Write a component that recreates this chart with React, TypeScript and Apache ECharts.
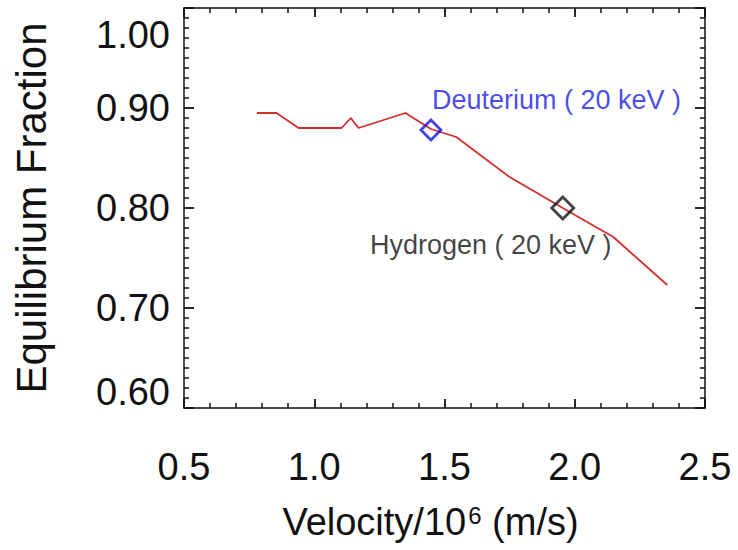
import React, { useEffect, useRef } from "react";
import * as echarts from "echarts";

// Red curve: equilibrium fraction vs velocity (10^6 m/s)
const velocity = [0.78, 0.855, 0.94, 1.105, 1.14, 1.17, 1.35, 1.448, 1.545, 1.75, 1.954, 2.148, 2.355];
const fraction = [0.895, 0.895, 0.88, 0.88, 0.89, 0.88, 0.895, 0.879, 0.871, 0.831, 0.8, 0.771, 0.723];

// Marked points
const deuteriumPoint = [1.448, 0.878];
const hydrogenPoint = [1.954, 0.8];

// Annotation texts and anchor (data coords, left-middle of text)
const deuteriumLabel = "Deuterium ( 20 keV )";
const deuteriumLabelAt = [1.452, 0.908];
const hydrogenLabel = "Hydrogen ( 20 keV )";
const hydrogenLabelAt = [1.214, 0.763];

const xTitle = "Velocity/10";
const yTitle = "Equilibrium Fraction";

const FONT = "'Liberation Sans', Arial, Helvetica, sans-serif";

export default function App() {
  const ref = useRef<HTMLDivElement>(null);
  useEffect(() => {
    if (!ref.current) return;
    const chart = echarts.init(ref.current, undefined, { renderer: "svg" });
    const mkX = (pos: string, withLabel: boolean) => ({
      type: "value",
      position: pos,
      min: 0.5,
      max: 2.5,
      interval: 0.5,
      axisLine: { show: true, onZero: false, lineStyle: { color: "#111", width: 1.5 } },
      axisTick: { show: true, inside: true, length: 9, lineStyle: { color: "#111", width: 1.8 } },
      minorTick: { show: true, splitNumber: 5, length: 5, lineStyle: { color: "#111", width: 1.5 } },
      splitLine: { show: false },
      axisLabel: withLabel
        ? {
            show: true,
            margin: 40,
            fontSize: 38,
            fontFamily: FONT,
            color: "#111",
            formatter: (v: number) => v.toFixed(1),
          }
        : { show: false },
    });
    const mkY = (pos: string, withLabel: boolean) => ({
      type: "value",
      position: pos,
      min: 0.6,
      max: 1.0,
      interval: 0.1,
      axisLine: { show: true, onZero: false, lineStyle: { color: "#111", width: 1.5 } },
      axisTick: { show: true, inside: true, length: 10, lineStyle: { color: "#111", width: 1.8 } },
      minorTick: { show: true, splitNumber: 10, length: 5, lineStyle: { color: "#111", width: 1.5 } },
      splitLine: { show: false },
      axisLabel: withLabel
        ? {
            show: true,
            margin: 14,
            fontSize: 38,
            fontFamily: FONT,
            color: "#111",
            formatter: (v: number) => {
              const t = v.toFixed(2);
              if (Math.abs(v - 1.0) < 1e-6) return "{top|" + t + "}";
              if (Math.abs(v - 0.6) < 1e-6) return "{bot|" + t + "}";
              return t;
            },
            rich: {
              top: { fontSize: 38, fontFamily: FONT, color: "#111", padding: [54, 0, 0, 0] },
              bot: { fontSize: 38, fontFamily: FONT, color: "#111", padding: [0, 0, 32, 0] },
            },
          }
        : { show: false },
    });
    const xBottom: any = mkX("bottom", true);
    xBottom.name = "{a|" + xTitle + "}{s|6}{a| (m/s)}";
    xBottom.nameLocation = "middle";
    xBottom.nameGap = 95;
    xBottom.nameTextStyle = {
      padding: [0, 28, 0, 0],
      rich: {
        a: { fontSize: 38, fontFamily: FONT, color: "#111" },
        s: { fontSize: 24, fontFamily: FONT, color: "#111", verticalAlign: "top", padding: [0, 0, 14, 2] },
      },
    };
    const yLeft: any = mkY("left", true);
    yLeft.name = yTitle;
    yLeft.nameLocation = "middle";
    yLeft.nameGap = 132;
    yLeft.nameTextStyle = { fontSize: 42, fontFamily: FONT, color: "#111" };

    chart.setOption({
      animation: false,
      backgroundColor: "#fff",
      grid: { left: 184, right: 33, top: 8, bottom: 142, outerBoundsMode: "none", containLabel: false },
      xAxis: [xBottom, mkX("top", false)],
      yAxis: [yLeft, mkY("right", false)],
      series: [
        {
          type: "line",
          data: velocity.map((v, i) => [v, fraction[i]]),
          showSymbol: false,
          lineStyle: { color: "#d42e2a", width: 1.8 },
          z: 2,
        },
        {
          type: "scatter",
          data: [deuteriumPoint],
          symbol: "diamond",
          symbolSize: 20,
          itemStyle: { color: "rgba(255,255,255,0)", borderColor: "#1414dc", borderWidth: 2.8 },
          z: 3,
        },
        {
          type: "scatter",
          data: [hydrogenPoint],
          symbol: "diamond",
          symbolSize: 22,
          itemStyle: { color: "rgba(255,255,255,0)", borderColor: "#111", borderWidth: 2.8 },
          z: 3,
        },
        {
          type: "scatter",
          symbolSize: 0,
          data: [
            { value: deuteriumLabelAt, name: deuteriumLabel, label: { color: "#1a1ae0" } },
            { value: hydrogenLabelAt, name: hydrogenLabel, label: { color: "#111" } },
          ],
          label: {
            show: true,
            position: [0, 0],
            align: "left",
            verticalAlign: "middle",
            fontSize: 27,
            fontFamily: FONT,
            formatter: (p: any) => p.name,
          },
          z: 4,
        },
      ],
    });
    return () => chart.dispose();
  }, []);
  return (
    <div
      ref={ref}
      style={{ position: "fixed", left: 0, top: 0, width: 738, height: 550, background: "#fff" }}
    />
  );
}
